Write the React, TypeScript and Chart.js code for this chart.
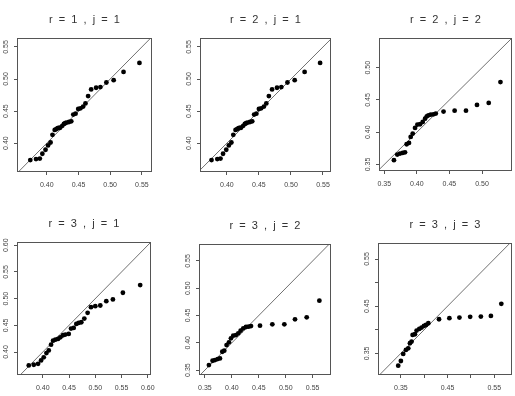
import React, { useEffect, useRef } from "react";
import { Chart, registerables } from "chart.js";

Chart.register(...registerables);

// ---------- data (theoretical quantiles vs sample quantiles) ----------
const p1Theoretical = [0.374, 0.383, 0.389, 0.393, 0.398, 0.402, 0.406, 0.409, 0.4125, 0.415, 0.417, 0.419, 0.421, 0.4245, 0.427, 0.429, 0.431, 0.435, 0.4386, 0.4418, 0.4454, 0.4496, 0.4532, 0.4574, 0.461, 0.4652, 0.470, 0.4778, 0.4846, 0.494, 0.5055, 0.5211, 0.5462];
const p1Sample = [0.3736, 0.3752, 0.376, 0.3835, 0.3897, 0.3964, 0.401, 0.413, 0.4207, 0.422, 0.4233, 0.4237, 0.424, 0.427, 0.430, 0.431, 0.432, 0.433, 0.434, 0.4445, 0.446, 0.4533, 0.4543, 0.457, 0.462, 0.4734, 0.4838, 0.4864, 0.4874, 0.4946, 0.4982, 0.5111, 0.5251];

const p2Theoretical = [0.376, 0.385, 0.390, 0.394, 0.399, 0.403, 0.407, 0.410, 0.4135, 0.416, 0.418, 0.420, 0.422, 0.4255, 0.428, 0.430, 0.432, 0.436, 0.4395, 0.4425, 0.446, 0.450, 0.4535, 0.4578, 0.4615, 0.4655, 0.4705, 0.4782, 0.4850, 0.4945, 0.5058, 0.5213, 0.5455];
const p2Sample = [0.3736, 0.3752, 0.376, 0.3835, 0.3897, 0.3964, 0.401, 0.413, 0.4207, 0.422, 0.4233, 0.4237, 0.424, 0.427, 0.430, 0.431, 0.432, 0.433, 0.434, 0.4445, 0.446, 0.4533, 0.4543, 0.457, 0.462, 0.4734, 0.4838, 0.4864, 0.4874, 0.4946, 0.4982, 0.5111, 0.5251];

const p3Theoretical = [0.3649, 0.370, 0.3742, 0.3783, 0.3819, 0.3844, 0.388, 0.3906, 0.3937, 0.3973, 0.4009, 0.405, 0.4091, 0.4127, 0.4153, 0.4178, 0.4214, 0.4255, 0.4291, 0.441, 0.458, 0.4754, 0.4923, 0.5103, 0.5283];
const p3Sample = [0.3567, 0.3655, 0.367, 0.368, 0.369, 0.3814, 0.3835, 0.3928, 0.3979, 0.4067, 0.4119, 0.4124, 0.416, 0.4211, 0.4247, 0.4263, 0.4273, 0.4278, 0.4289, 0.432, 0.4335, 0.4335, 0.4423, 0.4454, 0.4778];

const p4Theoretical = [0.3734, 0.3829, 0.3911, 0.3968, 0.4019, 0.407, 0.4114, 0.4158, 0.4196, 0.424, 0.4291, 0.4335, 0.4386, 0.443, 0.4494, 0.4538, 0.4589, 0.4639, 0.4684, 0.4734, 0.4791, 0.4854, 0.4918, 0.500, 0.5095, 0.5209, 0.5335, 0.5525, 0.5854];
const p4Sample = [0.3749, 0.3762, 0.378, 0.3843, 0.390, 0.3981, 0.4031, 0.4138, 0.4213, 0.4232, 0.4245, 0.4276, 0.4314, 0.4326, 0.4339, 0.4439, 0.4451, 0.4527, 0.4545, 0.4558, 0.4627, 0.4734, 0.484, 0.4859, 0.4871, 0.4953, 0.4984, 0.511, 0.5254];

const p5Theoretical = [0.3574, 0.3642, 0.3686, 0.3735, 0.3779, 0.3822, 0.3859, 0.3902, 0.3946, 0.3983, 0.4026, 0.4076, 0.4119, 0.4163, 0.4212, 0.4262, 0.4311, 0.4355, 0.4522, 0.4751, 0.4974, 0.5172, 0.5389, 0.5624];
const p5Sample = [0.3592, 0.3671, 0.3683, 0.3702, 0.3714, 0.3836, 0.3855, 0.3959, 0.4008, 0.4081, 0.413, 0.4142, 0.4173, 0.4222, 0.4265, 0.4289, 0.4295, 0.4307, 0.4313, 0.4338, 0.4338, 0.443, 0.4466, 0.4772];

const p6Theoretical = [0.3443, 0.350, 0.355, 0.3608, 0.3658, 0.3694, 0.3729, 0.3751, 0.3801, 0.3837, 0.3894, 0.3944, 0.3995, 0.4038, 0.4088, 0.4317, 0.4539, 0.4754, 0.4984, 0.5213, 0.5428, 0.5651];
const p6Sample = [0.3238, 0.3337, 0.3486, 0.3571, 0.3606, 0.3713, 0.3748, 0.389, 0.3904, 0.3982, 0.4018, 0.4046, 0.4082, 0.4103, 0.4138, 0.4223, 0.4245, 0.4259, 0.4273, 0.428, 0.4294, 0.455];

// ---------- tick values and labels ----------
const ticks40to55 = [0.40, 0.45, 0.50, 0.55];
const labels40to55 = ["0.40", "0.45", "0.50", "0.55"];
const ticks35to50 = [0.35, 0.40, 0.45, 0.50];
const labels35to50 = ["0.35", "0.40", "0.45", "0.50"];
const ticks40to60 = [0.40, 0.45, 0.50, 0.55, 0.60];
const labels40to60 = ["0.40", "0.45", "0.50", "0.55", "0.60"];
const ticks35to55 = [0.35, 0.40, 0.45, 0.50, 0.55];
const labels35to55 = ["0.35", "0.40", "0.45", "0.50", "0.55"];
const labels35to55Sparse = ["0.35", "", "0.45", "", "0.55"];

const titles = [
  "r  =  1  ,  j  =  1",
  "r  =  2  ,  j  =  1",
  "r  =  2  ,  j  =  2",
  "r  =  3  ,  j  =  1",
  "r  =  3  ,  j  =  2",
  "r  =  3  ,  j  =  3",
];

// axis limits [min, max]
const xLimits = [
  [0.353, 0.566],
  [0.358, 0.5625],
  [0.342, 0.546],
  [0.351, 0.606],
  [0.339, 0.584],
  [0.301, 0.588],
];
const yLimits = [
  [0.355, 0.564],
  [0.355, 0.564],
  [0.340, 0.546],
  [0.357, 0.606],
  [0.341, 0.581],
  [0.304, 0.584],
];

// ---------- layout (plot box in page pixels: left, top, right, bottom) ----------
const BOXES = [
  [17, 38, 152, 172],
  [200, 38, 331, 172],
  [379, 38, 512, 171],
  [17, 242, 151, 375],
  [199, 244, 331, 375],
  [378, 243, 512, 375],
];
const AXIS_W = 22;
const AXIS_H = 20;
const TITLE_H = 30;
const FONT = "'Liberation Sans', Arial, Helvetica, sans-serif";

interface PanelSpec {
  title: string;
  xs: number[];
  ys: number[];
  xLim: number[];
  yLim: number[];
  xTicks: number[];
  xLabels: string[];
  yTicks: number[];
  yLabels: string[];
  box: number[];
}

const panels: PanelSpec[] = [
  { title: titles[0], xs: p1Theoretical, ys: p1Sample, xLim: xLimits[0], yLim: yLimits[0], xTicks: ticks40to55, xLabels: labels40to55, yTicks: ticks40to55, yLabels: labels40to55, box: BOXES[0] },
  { title: titles[1], xs: p2Theoretical, ys: p2Sample, xLim: xLimits[1], yLim: yLimits[1], xTicks: ticks40to55, xLabels: labels40to55, yTicks: ticks40to55, yLabels: labels40to55, box: BOXES[1] },
  { title: titles[2], xs: p3Theoretical, ys: p3Sample, xLim: xLimits[2], yLim: yLimits[2], xTicks: ticks35to50, xLabels: labels35to50, yTicks: ticks35to50, yLabels: labels35to50, box: BOXES[2] },
  { title: titles[3], xs: p4Theoretical, ys: p4Sample, xLim: xLimits[3], yLim: yLimits[3], xTicks: ticks40to60, xLabels: labels40to60, yTicks: ticks40to60, yLabels: labels40to60, box: BOXES[3] },
  { title: titles[4], xs: p5Theoretical, ys: p5Sample, xLim: xLimits[4], yLim: yLimits[4], xTicks: ticks35to55, xLabels: labels35to55, yTicks: ticks35to55, yLabels: labels35to55, box: BOXES[4] },
  { title: titles[5], xs: p6Theoretical, ys: p6Sample, xLim: xLimits[5], yLim: yLimits[5], xTicks: ticks35to55, xLabels: labels35to55Sparse, yTicks: ticks35to55, yLabels: labels35to55Sparse, box: BOXES[5] },
];

const boxPlugin = {
  id: "frameBox",
  afterDraw(chart: any) {
    const { ctx, chartArea } = chart;
    ctx.save();
    ctx.strokeStyle = "#555";
    ctx.lineWidth = 1;
    const l = Math.round(chartArea.left) + 0.5;
    const t = Math.round(chartArea.top) + 0.5;
    const r = Math.round(chartArea.right) - 0.5;
    const b = Math.round(chartArea.bottom) - 0.5;
    ctx.strokeRect(l, t, r - l, b - t);
    ctx.restore();
  },
};

function Panel({ spec }: { spec: PanelSpec }) {
  const ref = useRef<HTMLCanvasElement>(null);
  const [bl, bt, br, bb] = spec.box;
  const left = bl - AXIS_W;
  const top = bt - TITLE_H;
  // symmetric: same margin on the right so the title centres over the box
  const width = br - bl + AXIS_W * 2;
  const height = bb - bt + TITLE_H + AXIS_H;

  useEffect(() => {
    if (!ref.current) return;
    const lo = Math.min(spec.xLim[0], spec.yLim[0]);
    const hi = Math.max(spec.xLim[1], spec.yLim[1]);
    const tickFont = { family: FONT, size: 7 };
    const chart = new Chart(ref.current, {
      type: "scatter",
      data: {
        datasets: [
          {
            data: spec.xs.map((x, i) => ({ x, y: spec.ys[i] })),
            pointRadius: 2.4,
            pointBackgroundColor: "#000",
            pointBorderWidth: 0,
            pointBorderColor: "#000",
            order: 1,
          },
          {
            data: [
              { x: lo, y: lo },
              { x: hi, y: hi },
            ],
            showLine: true,
            borderColor: "#707070",
            borderWidth: 1,
            pointRadius: 0,
            order: 2,
          },
        ],
      },
      options: {
        animation: false,
        responsive: false,
        maintainAspectRatio: false,
        devicePixelRatio: 1,
        events: [],
        layout: { padding: 0 },
        plugins: {
          legend: { display: false },
          tooltip: { enabled: false },
          title: {
            display: true,
            text: spec.title,
            color: "#333",
            font: { family: FONT, size: 11, weight: "normal", lineHeight: 1.2 },
            padding: { top: 5, bottom: TITLE_H - 5 - 13.2 },
          },
        },
        scales: {
          x: {
            type: "linear",
            min: spec.xLim[0],
            max: spec.xLim[1],
            afterBuildTicks: (s: any) => {
              s.ticks = spec.xTicks.map((v) => ({ value: v }));
            },
            afterFit: (s: any) => {
              s.height = AXIS_H;
            },
            ticks: {
              autoSkip: false,
              maxRotation: 0,
              minRotation: 0,
              padding: 6,
              color: "#444",
              font: tickFont,
              callback: (_v: any, i: number) => spec.xLabels[i],
            },
            grid: { drawOnChartArea: false, drawTicks: true, tickLength: 3, color: "#555" },
            border: { display: false },
          },
          y: {
            type: "linear",
            min: spec.yLim[0],
            max: spec.yLim[1],
            afterBuildTicks: (s: any) => {
              s.ticks = spec.yTicks.map((v) => ({ value: v }));
            },
            afterFit: (s: any) => {
              s.width = AXIS_W;
            },
            ticks: {
              autoSkip: false,
              minRotation: 90,
              maxRotation: 90,
              crossAlign: "center",
              padding: 1,
              color: "#444",
              font: tickFont,
              callback: (_v: any, i: number) => spec.yLabels[i],
            },
            grid: { drawOnChartArea: false, drawTicks: true, tickLength: 3, color: "#555" },
            border: { display: false },
          },
          yRight: {
            type: "linear",
            position: "right",
            display: true,
            min: spec.yLim[0],
            max: spec.yLim[1],
            afterFit: (s: any) => {
              s.width = AXIS_W;
            },
            ticks: { display: false },
            grid: { display: false, drawTicks: false },
            border: { display: false },
          },
        },
      } as any,
      plugins: [boxPlugin],
    });
    return () => chart.destroy();
  }, []);

  return (
    <canvas
      ref={ref}
      width={width}
      height={height}
      style={{ position: "absolute", left, top, width, height }}
    />
  );
}

export default function App() {
  return (
    <div
      style={{
        position: "fixed",
        left: 0,
        top: 0,
        width: 515,
        height: 396,
        overflow: "hidden",
        background: "#fff",
      }}
    >
      {panels.map((p, i) => (
        <Panel key={i} spec={p} />
      ))}
    </div>
  );
}
